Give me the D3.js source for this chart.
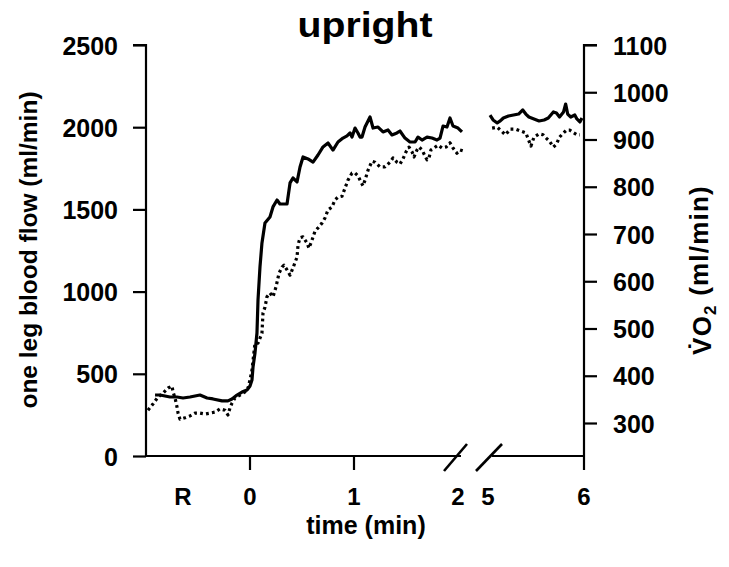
<!DOCTYPE html>
<html>
<head>
<meta charset="utf-8">
<script src="https://cdn.jsdelivr.net/npm/d3@7"></script>
<style>
  html, body { margin: 0; padding: 0; background: #fff; }
  svg { display: block; }
  text { font-family: "Liberation Sans", Arial, Helvetica, sans-serif; font-weight: bold; fill: #000; }
</style>
</head>
<body>
<svg id="chart" width="729" height="567"></svg>
<script>
// One-leg blood flow (ml/min), first part: rest (R) and 0–2 min of exercise
const flowTime1 = [-0.913,-0.865,-0.769,-0.702,-0.644,-0.577,-0.481,-0.413,-0.356,-0.269,-0.212,-0.173,-0.125,-0.077,-0.029,0,0.019,0.029,0.048,0.067,0.077,0.096,0.115,0.144,0.192,0.221,0.26,0.288,0.356,0.385,0.413,0.452,0.481,0.51,0.558,0.606,0.654,0.702,0.75,0.798,0.846,0.894,0.933,0.962,0.981,1.01,1.038,1.058,1.077,1.106,1.154,1.183,1.231,1.279,1.327,1.365,1.413,1.442,1.49,1.538,1.587,1.615,1.654,1.702,1.75,1.798,1.827,1.856,1.894,1.923,1.952,2.0,2.038];
const flowValue1 = [371,371,359,359,353,359,371,353,347,335,335,347,371,389,401,426,462,541,627,748,949,1150,1296,1417,1454,1515,1557,1533,1533,1661,1691,1667,1758,1819,1807,1788,1831,1880,1904,1861,1910,1934,1947,1965,1940,1995,1965,1940,1940,2001,2062,1995,2001,1971,1983,1953,1965,1977,1934,1910,1910,1940,1922,1940,1934,1922,1934,2007,2001,2056,2007,1995,1971];

// One-leg blood flow, second part: 5–6 min
const flowTime2 = [5.021,5.053,5.096,5.128,5.16,5.213,5.266,5.319,5.362,5.394,5.426,5.479,5.532,5.585,5.628,5.681,5.713,5.745,5.787,5.809,5.83,5.862,5.904,5.926,5.957,5.979];
const flowValue2 = [2074,2044,2026,2038,2056,2068,2074,2080,2105,2080,2062,2050,2038,2044,2056,2093,2086,2062,2093,2141,2080,2062,2074,2050,2032,2056];

// Oxygen uptake (ml/min), first part
const vo2Time1 = [-0.981,-0.933,-0.885,-0.837,-0.788,-0.75,-0.74,-0.721,-0.702,-0.692,-0.673,-0.625,-0.577,-0.529,-0.481,-0.433,-0.385,-0.337,-0.288,-0.24,-0.212,-0.192,-0.173,-0.144,-0.096,-0.048,-0.019,0,0.019,0.048,0.077,0.115,0.125,0.144,0.163,0.192,0.221,0.25,0.279,0.308,0.327,0.356,0.385,0.413,0.452,0.462,0.481,0.51,0.548,0.567,0.596,0.625,0.654,0.692,0.721,0.75,0.788,0.817,0.846,0.885,0.913,0.942,0.981,1.01,1.038,1.067,1.087,1.106,1.135,1.173,1.202,1.25,1.298,1.346,1.375,1.413,1.442,1.471,1.5,1.529,1.558,1.577,1.606,1.625,1.654,1.683,1.702,1.721,1.74,1.769,1.808,1.846,1.885,1.923,1.952,1.99,2.019,2.048];
const vo2Value1 = [327,340,355,363,374,378,366,353,334,321,308,311,315,321,321,319,321,323,330,327,317,332,342,353,359,366,374,391,412,469,469,490,533,545,567,575,567,588,617,630,634,624,613,628,651,677,692,694,681,670,687,706,713,723,734,751,757,772,778,780,797,814,829,829,823,810,802,814,835,854,852,842,842,852,861,852,848,859,874,884,874,863,878,884,878,865,857,861,878,882,888,882,884,893,882,871,878,876];

// Oxygen uptake, second part
const vo2Time2 = [5.043,5.096,5.149,5.181,5.234,5.287,5.34,5.394,5.415,5.447,5.479,5.532,5.574,5.606,5.638,5.681,5.713,5.745,5.787,5.819,5.851,5.894,5.926,5.957];
const vo2Value2 = [924,926,916,910,922,922,918,914,903,886,905,912,910,903,897,884,890,905,914,920,920,914,910,910];

// Axis ticks and labels
const flowTicks = [0, 500, 1000, 1500, 2000, 2500];
const vo2Ticks = [300, 400, 500, 600, 700, 800, 900, 1000, 1100];
const timeLabels1 = [{t: -0.644, label: "R", tick: false}, {t: 0, label: "0", tick: true}, {t: 1, label: "1", tick: true}, {t: 2, label: "2", tick: false}];
const timeLabels2 = [{t: 5, label: "5", tick: false}, {t: 6, label: "6", tick: true}];

const svg = d3.select("#chart");

// Scales: the time axis is broken into two pieces (before and after the gap)
const x1 = d3.scaleLinear().domain([-1, 2]).range([146, 458]);
const x2 = d3.scaleLinear().domain([5, 6]).range([488, 584]);
const yFlow = d3.scaleLinear().domain([0, 2500]).range([456, 45]);
const yVo2 = d3.scaleLinear().domain([300, 1100]).range([423, 45]);
const baseY = yFlow(0);

const axisColor = "#000";
const tickSize = 25;

// Left axis (blood flow)
const leftAxis = svg.append("g")
  .attr("transform", `translate(${x1(-1)},0)`)
  .call(d3.axisLeft(yFlow).tickValues(flowTicks).tickSize(13).tickPadding(15).tickFormat(d3.format("d")));
leftAxis.select(".domain").attr("stroke", axisColor).attr("stroke-width", 2.2).attr("d", `M-13,${yFlow(2500)}H0V${baseY}`);
leftAxis.selectAll(".tick line").attr("stroke", axisColor).attr("stroke-width", 2.2);
leftAxis.selectAll(".tick text").style("font-size", tickSize + "px").attr("dy", "0.36em");

// Right axis (VO2)
const rightAxis = svg.append("g")
  .attr("transform", `translate(${x2(6)},0)`)
  .call(d3.axisRight(yVo2).tickValues(vo2Ticks).tickSize(13).tickPadding(16).tickFormat(d3.format("d")));
rightAxis.select(".domain").attr("stroke", axisColor).attr("stroke-width", 2.2).attr("d", `M13,${yVo2(1100)}H0V${baseY}`);
rightAxis.selectAll(".tick line").attr("stroke", axisColor).attr("stroke-width", 2.2);
rightAxis.selectAll(".tick text").style("font-size", tickSize + "px").attr("dy", "0.36em");

// Broken time axis
const xAxisG = svg.append("g");
xAxisG.append("line").attr("x1", x1(-1)).attr("x2", 461).attr("y1", baseY).attr("y2", baseY)
  .attr("stroke", axisColor).attr("stroke-width", 2.2);
xAxisG.append("line").attr("x1", 492).attr("x2", x2(6)).attr("y1", baseY).attr("y2", baseY)
  .attr("stroke", axisColor).attr("stroke-width", 2.2);
// break marks
[[444, 467], [476, 502]].forEach(([a, b]) => {
  xAxisG.append("line").attr("x1", a).attr("y1", baseY + 15).attr("x2", b).attr("y2", baseY - 12)
    .attr("stroke", axisColor).attr("stroke-width", 2.6);
});

function timeTicks(items, scale) {
  items.forEach(d => {
    const x = scale(d.t);
    if (d.tick) {
      xAxisG.append("line").attr("x1", x).attr("x2", x).attr("y1", baseY).attr("y2", baseY + 14)
        .attr("stroke", axisColor).attr("stroke-width", 2.2);
    }
    xAxisG.append("text").attr("x", x).attr("y", 505).attr("text-anchor", "middle")
      .style("font-size", "24px").text(d.label);
  });
}
timeTicks(timeLabels1, x1);
timeTicks(timeLabels2, x2);

// Data lines
const flowLine1 = d3.line().x((d, i) => x1(flowTime1[i])).y(d => yFlow(d));
const flowLine2 = d3.line().x((d, i) => x2(flowTime2[i])).y(d => yFlow(d));
const vo2Line1 = d3.line().x((d, i) => x1(vo2Time1[i])).y(d => yVo2(d));
const vo2Line2 = d3.line().x((d, i) => x2(vo2Time2[i])).y(d => yVo2(d));

[[vo2Value1, vo2Line1], [vo2Value2, vo2Line2]].forEach(([vals, gen]) => {
  svg.append("path").datum(vals).attr("d", gen).attr("fill", "none")
    .attr("stroke", "#000").attr("stroke-width", 3.2)
    .attr("stroke-dasharray", "2.8,3.2").attr("stroke-linejoin", "round");
});
[[flowValue1, flowLine1], [flowValue2, flowLine2]].forEach(([vals, gen]) => {
  svg.append("path").datum(vals).attr("d", gen).attr("fill", "none")
    .attr("stroke", "#000").attr("stroke-width", 3.2).attr("stroke-linejoin", "round");
});

// Titles
svg.append("text").attr("transform", "translate(365,37) scale(1.12,1)").attr("text-anchor", "middle")
  .style("font-size", "35px").text("upright");

svg.append("text").attr("x", 366).attr("y", 534).attr("text-anchor", "middle")
  .style("font-size", "25px").text("time (min)");

svg.append("text").attr("transform", "translate(37,250) rotate(-90)").attr("text-anchor", "middle")
  .style("font-size", "24.5px").text("one leg blood flow (ml/min)");

const r = svg.append("text").attr("transform", "translate(711,270) rotate(-90)").attr("text-anchor", "middle")
  .style("font-size", "26px").style("letter-spacing", "1.2px");
r.append("tspan").text("V\u0307O");
r.append("tspan").attr("dy", "0.3em").style("font-size", "17px").text("2");
r.append("tspan").attr("dy", "-0.3em").text(" (ml/min)");
</script>
</body>
</html>
